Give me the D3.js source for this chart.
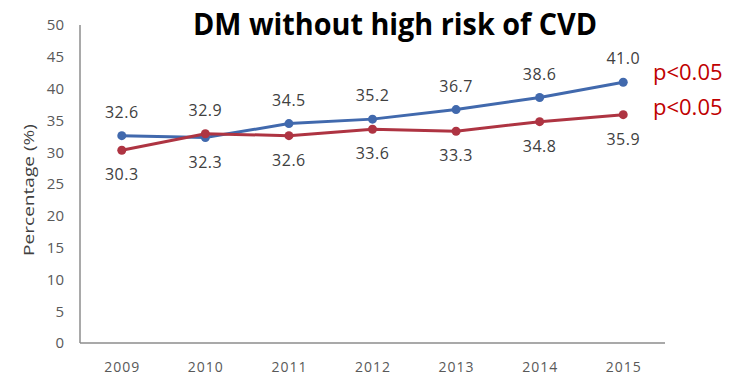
<!DOCTYPE html>
<html><head><meta charset="utf-8">
<script src="https://cdn.jsdelivr.net/npm/d3@7"></script>
<style>body{margin:0;background:#fff}</style>
</head><body>
<svg id="c" width="734" height="378"></svg>
<script>
const years = ["2009","2010","2011","2012","2013","2014","2015"];
const blueValues = [32.6, 32.3, 34.5, 35.2, 36.7, 38.6, 41.0];
const redValues  = [30.3, 32.9, 32.6, 33.6, 33.3, 34.8, 35.9];
const yTicks = [0,5,10,15,20,25,30,35,40,45,50];
const title = "DM without high risk of CVD";
const pLabels = ["p<0.05","p<0.05"];

const svg = d3.select("#c");
const x = d3.scalePoint().domain(years).range([80, 665]).padding(0.5);
const y = d3.scaleLinear().domain([0, 50]).range([343, 25]);

// axes lines
svg.append("line").attr("x1",80).attr("x2",80).attr("y1",y(50)).attr("y2",y(0))
  .attr("stroke","#8c8c8c").attr("stroke-width",1.5);
svg.append("line").attr("x1",80).attr("x2",665).attr("y1",y(0)).attr("y2",y(0))
  .attr("stroke","#8c8c8c").attr("stroke-width",1.5);

const yAxis = d3.axisLeft(y).tickValues(yTicks).tickSize(0).tickPadding(0);
const gy = svg.append("g").attr("transform","translate(64,0)").call(yAxis);
gy.select(".domain").remove();
gy.selectAll("text").attr("font-family","Open Sans, sans-serif").attr("font-size",15).attr("fill","#595959");

const xAxis = d3.axisBottom(x).tickSize(0).tickPadding(0);
const gx = svg.append("g").attr("transform",`translate(0,${y(0)+19})`).call(xAxis);
gx.select(".domain").remove();
gx.selectAll("text").attr("font-family","Open Sans, sans-serif").attr("font-size",14)
  .attr("letter-spacing",1).attr("fill","#595959");

svg.append("text").attr("transform","translate(34,190) rotate(-90)")
  .attr("text-anchor","middle").attr("font-family","Open Sans, sans-serif")
  .attr("font-size",15).attr("textLength",132).attr("lengthAdjust","spacingAndGlyphs")
  .attr("fill","#404040").text("Percentage (%)");

const series = [
  {vals: blueValues, color: "#4169ad"},
  {vals: redValues, color: "#ae3442"}
];
const line = d3.line().x((d,i)=>x(years[i])).y(d=>y(d));
series.forEach(s=>{
  svg.append("path").datum(s.vals).attr("d",line).attr("fill","none")
    .attr("stroke",s.color).attr("stroke-width",3);
  svg.selectAll(null).data(s.vals).enter().append("circle")
    .attr("cx",(d,i)=>x(years[i])).attr("cy",d=>y(d)).attr("r",4.5).attr("fill",s.color);
});

// data labels: higher above, lower below
years.forEach((yr,i)=>{
  const a = blueValues[i], b = redValues[i];
  const hi = Math.max(a,b), lo = Math.min(a,b);
  svg.append("text").attr("x",x(yr)).attr("y",y(hi)-18).attr("text-anchor","middle")
    .attr("font-family","Open Sans, sans-serif").attr("font-size",16).attr("letter-spacing",0.5)
    .attr("fill","#404040").text(hi.toFixed(1));
  svg.append("text").attr("x",x(yr)).attr("y",y(lo)+30).attr("text-anchor","middle")
    .attr("font-family","Open Sans, sans-serif").attr("font-size",16).attr("letter-spacing",0.5)
    .attr("fill","#404040").text(lo.toFixed(1));
});

svg.append("text").attr("x",395).attr("y",35).attr("text-anchor","middle")
  .attr("font-family","Open Sans, sans-serif").attr("font-weight","bold").attr("font-size",30)
  .attr("textLength",404).attr("lengthAdjust","spacingAndGlyphs")
  .attr("fill","#000").text(title);

pLabels.forEach((t,i)=>{
  svg.append("text").attr("x",653).attr("y",[80,115][i])
    .attr("font-family","Open Sans, sans-serif").attr("font-size",22).attr("fill","#c00000").text(t);
});
</script>
</body></html>
